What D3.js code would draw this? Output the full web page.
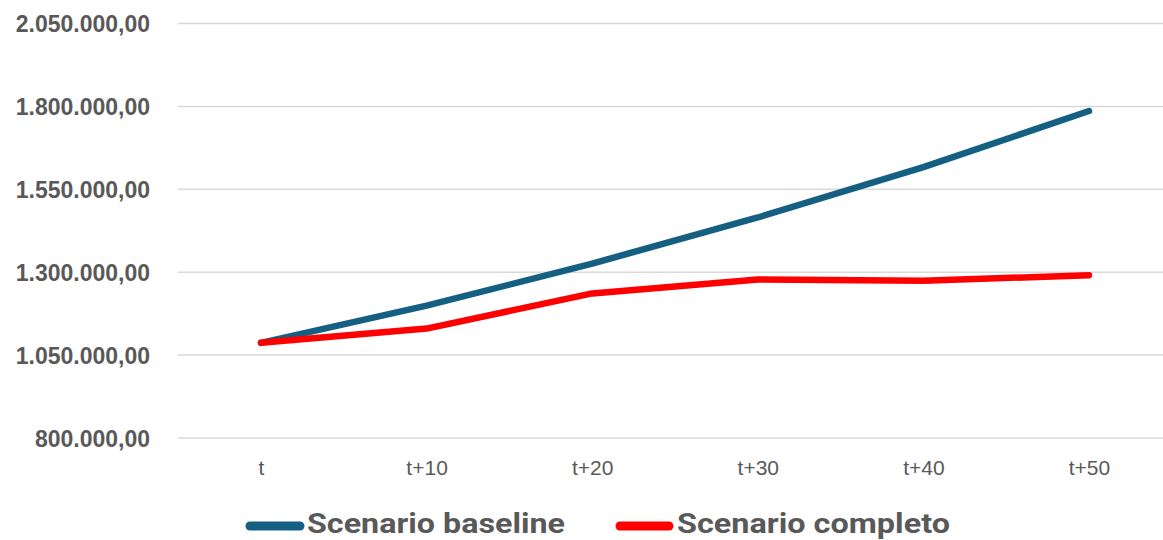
<!DOCTYPE html>
<html>
<head>
<meta charset="utf-8">
<script src="https://cdn.jsdelivr.net/npm/d3@7"></script>
<style>
  html, body { margin: 0; padding: 0; background: #fff; }
  svg { display: block; }
</style>
</head>
<body>
<svg id="chart" width="1163" height="540"></svg>
<script>
const categories = ["t", "t+10", "t+20", "t+30", "t+40", "t+50"];
const baseline = [1087000, 1199000, 1326000, 1465000, 1617000, 1786000];
const completo = [1087000, 1130000, 1236000, 1278000, 1274000, 1291000];
const yTicks = [800000, 1050000, 1300000, 1550000, 1800000, 2050000];
const seriesNames = ["Scenario baseline", "Scenario completo"];
const seriesColors = ["#156082", "#FF0000"];

const svg = d3.select("#chart");
const W = 1163, H = 540;

const x = d3.scalePoint().domain(categories).range([261, 1089]);
const y = d3.scaleLinear().domain([800000, 2050000]).range([438, 23.5]);

const locale = d3.formatLocale({decimal: ",", thousands: ".", grouping: [3], currency: ["€", ""]});
const fmt = locale.format(",.2f");

// gridlines
const gridG = svg.append("g");
gridG.selectAll("line").data(yTicks).join("line")
  .attr("x1", 178).attr("x2", W)
  .attr("y1", d => y(d)).attr("y2", d => y(d))
  .attr("stroke", "#d9d9d9").attr("stroke-width", 1.5);

// y axis labels
const yAxis = d3.axisLeft(y).tickValues(yTicks).tickFormat(fmt).tickSize(0).tickPadding(0);
const yG = svg.append("g").attr("transform", "translate(150,0)").call(yAxis);
yG.select(".domain").remove();
yG.selectAll("text")
  .attr("fill", "#595959")
  .style("font-family", "'Liberation Sans', Arial, sans-serif")
  .style("font-weight", "bold")
  .style("font-size", "23px")
  .attr("dy", "0.35em");

// x axis labels
const xAxis = d3.axisBottom(x).tickSize(0).tickPadding(0);
const xG = svg.append("g").attr("transform", "translate(0,468)").call(xAxis);
xG.select(".domain").remove();
xG.selectAll("text")
  .attr("fill", "#595959")
  .attr("dy", "0.35em")
  .style("font-family", "'Liberation Sans', Arial, sans-serif")
  .style("font-size", "21px");

// lines
const line = d3.line().x((d, i) => x(categories[i])).y(d => y(d));
[baseline, completo].forEach((s, k) => {
  svg.append("path")
    .datum(s)
    .attr("d", line)
    .attr("fill", "none")
    .attr("stroke", seriesColors[k])
    .attr("stroke-width", 6.5)
    .attr("stroke-linecap", "round")
    .attr("stroke-linejoin", "round");
});

// legend
const legendItems = [
  {x1: 250, x2: 300, tx: 307, w: 258},
  {x1: 620, x2: 669, tx: 677, w: 273}
];
legendItems.forEach((it, k) => {
  svg.append("line")
    .attr("x1", it.x1).attr("x2", it.x2)
    .attr("y1", 526).attr("y2", 526)
    .attr("stroke", seriesColors[k])
    .attr("stroke-width", 9)
    .attr("stroke-linecap", "round");
  svg.append("text")
    .attr("x", it.tx).attr("y", 533)
    .attr("fill", "#595959")
    .attr("textLength", it.w)
    .attr("lengthAdjust", "spacingAndGlyphs")
    .style("font-family", "Roboto, 'Liberation Sans', sans-serif")
    .style("font-weight", "bold")
    .style("font-size", "27px")
    .text(seriesNames[k]);
});
</script>
</body>
</html>
